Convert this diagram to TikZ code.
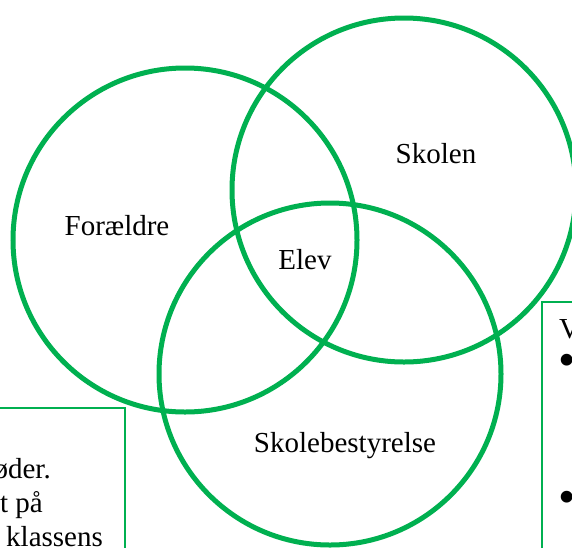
\documentclass[tikz,border=0pt]{standalone}
\usepackage{fontspec}
\setmainfont{Liberation Serif}
\definecolor{vgreen}{HTML}{00B050}
\begin{document}
\begin{tikzpicture}[x=1pt,y=-1pt,
  ring/.style={draw=vgreen,line width=5pt},
  sidebox/.style={draw=vgreen,line width=1.5pt},
  lbl/.style={inner sep=0pt,font=\fontsize{29}{34}\selectfont}]
\useasboundingbox (0,0) rectangle (572,547);
\clip (0,0) rectangle (572,547);
% side boxes
\draw[sidebox] (-10,408) rectangle (125,570);
\draw[sidebox] (542,302) rectangle (600,570);
\node[lbl,anchor=base east] (t1) at (51,478) {øder.};
\node[lbl,anchor=base east] (t2) at (43,512) {t på};
\node[lbl,anchor=base west] (t3) at (6,546) {klassens};
\node[lbl,anchor=base west] (v) at (559,338) {V};
\node[lbl,anchor=center] (b1) at (567,365) {\scalebox{1.7}{•}};
\node[lbl,anchor=center] (b2) at (567,502) {\scalebox{1.7}{•}};
% circles
\draw[ring] (185,240) circle[radius=172];
\draw[ring] (404,190) circle[radius=172];
\draw[ring] (330,374) circle[radius=171];
% labels
\node[lbl,anchor=base] (f) at (117,235) {Forældre};
\node[lbl,anchor=base] (s) at (436,163) {Skolen};
\node[lbl,anchor=base] (e) at (305,269) {Elev};
\node[lbl,anchor=base] (sb) at (345,452) {Skolebestyrelse};
\end{tikzpicture}
\end{document}
